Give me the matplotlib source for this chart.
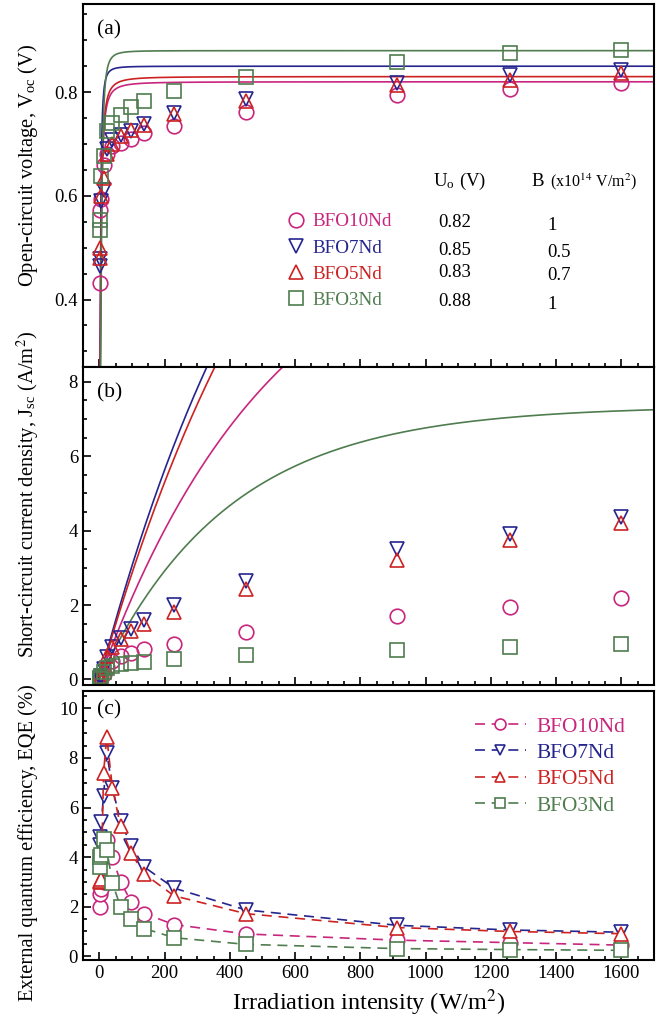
import numpy as np
import matplotlib
matplotlib.use("Agg")
import matplotlib.pyplot as plt
from matplotlib.lines import Line2D
from matplotlib.ticker import MultipleLocator, FormatStrFormatter

plt.rcParams["font.family"] = ["Liberation Serif", "DejaVu Serif"]
plt.rcParams["mathtext.fontset"] = "stix"

samples = ["BFO10Nd", "BFO7Nd", "BFO5Nd", "BFO3Nd"]
colors = ["#c8267d", "#25258f", "#cc2222", "#4f7d4f"]
markers = ["o", "v", "^", "s"]

# irradiation intensity, W/m^2
irradiance = [1, 3, 6, 13, 23, 40, 65, 98, 138, 229, 449, 912, 1258, 1600]

# open-circuit voltage, V
voc_10 = [0.432, 0.572, 0.594, 0.660, 0.680, 0.696, 0.701, 0.710, 0.722, 0.734, 0.761, 0.795, 0.806, 0.818]
voc_7 = [0.465, 0.478, 0.590, 0.612, 0.690, 0.708, 0.718, 0.725, 0.739, 0.760, 0.786, 0.818, 0.834, 0.842]
voc_5 = [0.480, 0.500, 0.600, 0.635, 0.680, 0.700, 0.715, 0.727, 0.736, 0.757, 0.783, 0.813, 0.824, 0.836]
voc_3 = [0.535, 0.554, 0.638, 0.677, 0.725, 0.741, 0.755, 0.772, 0.783, 0.802, 0.830, 0.858, 0.875, 0.882]

# short-circuit current density, A/m^2
jsc_10 = [0.01, 0.03, 0.06, 0.14, 0.34, 0.50, 0.62, 0.70, 0.83, 0.96, 1.27, 1.70, 1.95, 2.19]
jsc_7 = [0.02, 0.05, 0.10, 0.27, 0.60, 0.88, 1.12, 1.36, 1.60, 1.99, 2.65, 3.50, 3.92, 4.37]
jsc_5 = [0.01, 0.03, 0.06, 0.30, 0.64, 0.86, 1.08, 1.30, 1.50, 1.81, 2.44, 3.22, 3.74, 4.21]
jsc_3 = [0.01, 0.04, 0.08, 0.19, 0.31, 0.37, 0.41, 0.45, 0.48, 0.56, 0.65, 0.78, 0.87, 0.96]

# external quantum efficiency, %
eqe_10 = [2.0, 2.5, 2.7, 3.0, 4.7, 4.0, 3.0, 2.2, 1.72, 1.28, 0.90, 0.65, 0.55, 0.45]
eqe_7 = [4.5, 4.8, 5.4, 6.45, 8.2, 6.8, 5.45, 4.45, 3.6, 2.75, 1.87, 1.25, 1.06, 0.97]
eqe_5 = [3.0, 3.05, 3.1, 7.4, 8.85, 6.8, 5.25, 4.15, 3.32, 2.44, 1.72, 1.16, 1.0, 0.91]
eqe_3 = [3.6, 4.0, 4.1, 4.75, 4.3, 2.96, 2.0, 1.49, 1.12, 0.75, 0.48, 0.31, 0.27, 0.24]

# fit parameters
u0 = [0.82, 0.85, 0.83, 0.88]
b_coef = ["1", "0.5", "0.7", "1"]
voc_knee = [3.95, 3.4, 3.95, 5.76]     # W/m^2
voc_power = [1.6, 2.0, 1.6, 2.2]
jsc_sat = [13.0, 20.0, 20.0, 7.35]     # A/m^2
jsc_scale = [541, 605, 650, 396]       # W/m^2

voc_all = [voc_10, voc_7, voc_5, voc_3]
jsc_all = [jsc_10, jsc_7, jsc_5, jsc_3]
eqe_all = [eqe_10, eqe_7, eqe_5, eqe_3]

MS = 10.5
MEW = 1.2
LABEL_FS = 14.8

fig = plt.figure(figsize=(6.66, 10.23), dpi=100)
ax_a = fig.add_axes([0.1246, 0.6413, 0.8574, 0.3548])
ax_b = fig.add_axes([0.1246, 0.3304, 0.8574, 0.3109])
ax_c = fig.add_axes([0.1246, 0.0616, 0.8574, 0.2629])

I_fit = np.concatenate([np.linspace(0.01, 40, 800), np.linspace(40, 1700, 800)])

for ax in (ax_a, ax_b, ax_c):
    ax.set_xlim(-50, 1700)
    ax.xaxis.set_major_locator(MultipleLocator(200))
    ax.xaxis.set_minor_locator(MultipleLocator(50))
    ax.tick_params(which="both", direction="in", top=False, right=False,
                   labelsize=13.5, width=1.2)
    ax.tick_params(which="major", length=6)
    ax.tick_params(which="minor", length=3)
    for sp in ax.spines.values():
        sp.set_linewidth(1.5)

# (a) open-circuit voltage
for i in range(4):
    r = (I_fit / voc_knee[i]) ** voc_power[i]
    ax_a.plot(I_fit, u0[i] * r / (1 + r), color=colors[i], lw=1.2)
for i in range(4):
    ax_a.plot(irradiance, voc_all[i], ls="none", marker=markers[i], ms=MS,
              mec=colors[i], mfc="none", mew=MEW)
ax_a.set_ylim(0.27, 0.97)
ax_a.yaxis.set_major_locator(MultipleLocator(0.2))
ax_a.yaxis.set_minor_locator(MultipleLocator(0.05))
ax_a.yaxis.set_major_formatter(FormatStrFormatter("%.1f"))
ax_a.tick_params(labelbottom=False)
ax_a.set_ylabel("Open-circuit voltage, V$_\\mathregular{oc}$ (V)", fontsize=LABEL_FS, va="center")
ax_a.yaxis.set_label_coords(-0.096, 0.556)
ax_a.text(0.0245, 0.928, "(a)", transform=ax_a.transAxes, fontsize=15.5, va="center")

handles = [Line2D([], [], ls="none", marker=markers[i], ms=MS, mec=colors[i],
                  mfc="none", mew=MEW) for i in range(4)]
leg = ax_a.legend(handles, samples, loc="upper left", bbox_to_anchor=(0.357, 0.424),
                  frameon=False, fontsize=13.8, handlelength=1.0, handletextpad=0.35,
                  labelspacing=0.45, borderpad=0, borderaxespad=0)
for t, c in zip(leg.get_texts(), colors):
    t.set_color(c)

# fit parameter table
ax_a.text(0.613, 0.51, "U$_\\mathregular{o}$ (V)", transform=ax_a.transAxes,
          fontsize=13.5, va="center")
ax_a.text(0.786, 0.51, "B", transform=ax_a.transAxes, fontsize=13.5, va="center")
ax_a.text(0.817, 0.51, "(x10$^{14}$ V/m$^2$)", transform=ax_a.transAxes,
          fontsize=11.5, va="center")
row_y = [0.397, 0.322, 0.259, 0.179]
for i in range(4):
    ax_a.text(0.622, row_y[i], f"{u0[i]:.2f}", transform=ax_a.transAxes,
              fontsize=13.5, va="center")
    ax_a.text(0.813, row_y[i] - 0.006, b_coef[i], transform=ax_a.transAxes,
              fontsize=13.5, va="center")

# (b) short-circuit current density
for i in range(4):
    j_fit = jsc_sat[i] * (1 - np.exp(-I_fit / jsc_scale[i]))
    ax_b.plot(I_fit, j_fit, color=colors[i], lw=1.2)
for i in range(4):
    ax_b.plot(irradiance, jsc_all[i], ls="none", marker=markers[i], ms=MS,
              mec=colors[i], mfc="none", mew=MEW)
ax_b.set_ylim(-0.15, 8.4)
ax_b.yaxis.set_major_locator(MultipleLocator(2))
ax_b.yaxis.set_minor_locator(MultipleLocator(0.5))
ax_b.tick_params(labelbottom=False)
ax_b.set_ylabel("Short-circuit current density, J$_\\mathregular{sc}$ (A/m$^2$)",
                fontsize=LABEL_FS, va="center")
ax_b.yaxis.set_label_coords(-0.096, 0.598)
ax_b.text(0.0245, 0.918, "(b)", transform=ax_b.transAxes, fontsize=15.5, va="center")

# (c) external quantum efficiency
for i in range(4):
    ax_c.plot(irradiance, eqe_all[i], ls=(0, (6, 4)), lw=1.2, color=colors[i],
              marker=markers[i], ms=MS, mec=colors[i], mfc="white", mew=MEW,
              label=samples[i])
ax_c.set_ylim(-0.15, 10.7)
ax_c.yaxis.set_major_locator(MultipleLocator(2))
ax_c.yaxis.set_minor_locator(MultipleLocator(0.5))
ax_c.set_ylabel("External quantum efficiency, EQE (%)", fontsize=LABEL_FS, va="center")
ax_c.yaxis.set_label_coords(-0.096, 0.435)
ax_c.set_xlabel("Irradiation intensity (W/m$^2$)", fontsize=17.5)
ax_c.text(0.0245, 0.929, "(c)", transform=ax_c.transAxes, fontsize=15.5, va="center")
leg_c = ax_c.legend(loc="upper left", bbox_to_anchor=(0.686, 0.905), frameon=False,
                    fontsize=15.4, handlelength=2.4, handletextpad=0.47,
                    labelspacing=0.3, borderpad=0, borderaxespad=0, markerscale=0.75)
for t, c in zip(leg_c.get_texts(), colors):
    t.set_color(c)

fig.savefig("out.png", dpi=100)
